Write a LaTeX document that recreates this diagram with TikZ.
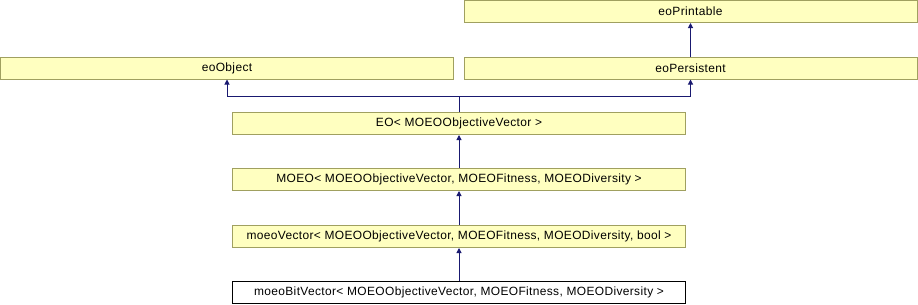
\documentclass[tikz,border=0pt]{standalone}
\usepackage{fontspec}
\setmainfont{Liberation Sans}[LetterSpace=3]
\usetikzlibrary{arrows.meta}
\definecolor{boxfill}{HTML}{FFFFC0}
\definecolor{boxline}{HTML}{A0A060}
\definecolor{edgecol}{HTML}{191970}
\begin{document}
\begin{tikzpicture}[x=1bp,y=-1bp,
  cls/.style={draw=boxline, fill=boxfill, line width=1bp, inner sep=0pt,
    minimum height=22bp, font=\fontsize{12}{14}\selectfont},
  wide/.style={minimum width=453bp},
  inh/.style={draw=edgecol, line width=1bp, -{Triangle[length=5bp,width=5bp]}}]
\useasboundingbox (0,0) rectangle (918,304);
\node[cls, wide] (print) at (690.5,11.5) {eoPrintable};
\node[cls, wide] (pers) at (690.5,68) {eoPersistent};
\node[cls, wide] (obj) at (227,68) {eoObject};
\node[cls, wide] (eo) at (459,123.5) {EO< MOEOObjectiveVector >};
\node[cls, wide] (moeo) at (459,179.5) {MOEO< MOEOObjectiveVector, MOEOFitness, MOEODiversity >};
\node[cls, wide] (vec) at (459,236.5) {moeoVector< MOEOObjectiveVector, MOEOFitness, MOEODiversity, bool >};
\node[cls, wide, draw=black, fill=white] (bit) at (459,292.5) {moeoBitVector< MOEOObjectiveVector, MOEOFitness, MOEODiversity >};
\coordinate (j) at (459,96);
\draw[inh] (pers.north) -- (print.south);
\draw[draw=edgecol, line width=1bp] (eo.north) -- (j);
\draw[inh] (j) -| (obj.south);
\draw[inh] (j) -| (pers.south);
\draw[inh] (moeo.north) -- (eo.south);
\draw[inh] (vec.north) -- (moeo.south);
\draw[inh] (bit.north) -- (vec.south);
\end{tikzpicture}
\end{document}
